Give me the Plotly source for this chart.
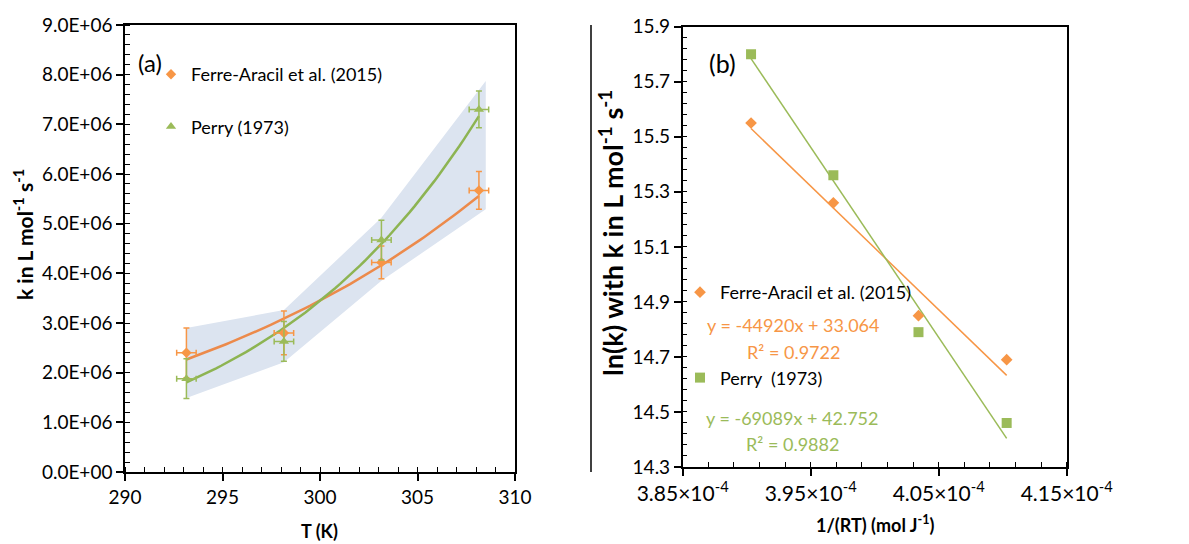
import numpy as np
import plotly.graph_objects as go

# ---------------- data ----------------
T_K = [293.15, 298.15, 303.15, 308.15]
k_ferre = [2.40e6, 2.80e6, 4.22e6, 5.67e6]
k_ferre_err = [0.50e6, 0.44e6, 0.33e6, 0.38e6]
k_perry = [1.88e6, 2.63e6, 4.67e6, 7.30e6]
k_perry_err = [0.40e6, 0.40e6, 0.40e6, 0.37e6]
T_err = [0.5, 0.5, 0.5, 0.5]

band_T = [293.15, 298.15, 303.15, 308.5]
band_upper = [2.90e6, 3.26e6, 5.12e6, 7.87e6]
band_lower = [1.49e6, 2.21e6, 3.85e6, 5.29e6]

invRT = [3.9034e-4, 3.9677e-4, 4.0342e-4, 4.1031e-4]
lnk_ferre = [15.55, 15.26, 14.85, 14.69]
lnk_perry = [15.80, 15.36, 14.79, 14.46]

fit_ferre = (-44920, 33.064, 0.9722)
fit_perry = (-69089, 42.752, 0.9882)
R_GAS = 8.314

yticks_a = [0, 1e6, 2e6, 3e6, 4e6, 5e6, 6e6, 7e6, 8e6, 9e6]
yticktext_a = ["0.0E+00", "1.0E+06", "2.0E+06", "3.0E+06", "4.0E+06",
               "5.0E+06", "6.0E+06", "7.0E+06", "8.0E+06", "9.0E+06"]
xticks_b = [3.85e-4, 3.95e-4, 4.05e-4, 4.15e-4]
xticktext_b = ["3.85×10<sup>-4</sup>", "3.95×10<sup>-4</sup>",
               "4.05×10<sup>-4</sup>", "4.15×10<sup>-4</sup>"]

# ---------------- styles ----------------
ORANGE = "#F79646"
ORANGE_LINE = "#EC8A4B"
GREEN = "#9BBB59"
GREEN_LINE = "#8DB452"
BAND = "#DCE4F0"
FONT = "Lato"

fig = go.Figure()

# band (a)
fig.add_trace(go.Scatter(
    x=band_T + band_T[::-1], y=band_upper + band_lower[::-1],
    fill="toself", fillcolor=BAND, line=dict(width=0), mode="lines",
    showlegend=False, hoverinfo="skip", xaxis="x", yaxis="y"))

# Arrhenius fit curves (a)
T_fine = np.linspace(T_K[0], T_K[-1], 60)
for (a, b, _), col in [(fit_ferre, ORANGE_LINE), (fit_perry, GREEN_LINE)]:
    fig.add_trace(go.Scatter(
        x=T_fine, y=np.exp(b + a / (R_GAS * T_fine)), mode="lines",
        line=dict(color=col, width=2.5), showlegend=False, hoverinfo="skip",
        xaxis="x", yaxis="y"))

# points (a)
fig.add_trace(go.Scatter(
    x=T_K, y=k_ferre, mode="markers", name="Ferre-Aracil et al. (2015)",
    marker=dict(symbol="diamond", size=8, color=ORANGE),
    error_y=dict(type="data", array=k_ferre_err, color=ORANGE, thickness=1.5, width=3),
    error_x=dict(type="data", array=T_err, color=ORANGE, thickness=1.5, width=3),
    legendgroup="a1", legend="legend", xaxis="x", yaxis="y"))
fig.add_trace(go.Scatter(
    x=T_K, y=k_perry, mode="markers", name="Perry (1973)",
    marker=dict(symbol="triangle-up", size=9, color=GREEN),
    error_y=dict(type="data", array=k_perry_err, color=GREEN, thickness=1.5, width=3),
    error_x=dict(type="data", array=T_err, color=GREEN, thickness=1.5, width=3),
    legendgroup="a2", legend="legend", xaxis="x", yaxis="y"))

# trendlines (b)
x_end = np.array([invRT[0], invRT[-1]])
for (a, b, _), col in [(fit_ferre, ORANGE), (fit_perry, GREEN)]:
    fig.add_trace(go.Scatter(
        x=x_end, y=a * x_end + b, mode="lines", line=dict(color=col, width=1.5),
        showlegend=False, hoverinfo="skip", xaxis="x2", yaxis="y2"))

fig.add_trace(go.Scatter(
    x=invRT, y=lnk_ferre, mode="markers", name="Ferre-Aracil et al. (2015)",
    marker=dict(symbol="diamond", size=9, color=ORANGE),
    legendgroup="b1", legend="legend2", xaxis="x2", yaxis="y2"))
fig.add_trace(go.Scatter(
    x=invRT, y=lnk_perry, mode="markers", name="Perry\u00a0\u00a0(1973)",
    marker=dict(symbol="square", size=10, color=GREEN),
    legendgroup="b2", legend="legend2", xaxis="x2", yaxis="y2"))

# page has an 8px body margin: figure is placed at (8, 8)
OFF = 8
W, H = 1189 - OFF, 544 - OFF
def px(x): return (x - OFF) / W
def py(y): return 1 - (y - OFF) / H

tickfont = dict(family=FONT, size=19, color="black")
common = dict(showline=True, linecolor="black", linewidth=1.5, mirror=True,
              ticks="outside", ticklen=7, tickwidth=1.5, tickcolor="black",
              showgrid=False, zeroline=False, automargin=False)

fig.update_layout(
    width=W, height=H, margin=dict(l=0, r=0, t=0, b=0, autoexpand=False),
    paper_bgcolor="white", plot_bgcolor="white",
    font=dict(family=FONT, size=18, color="black"),
    xaxis=dict(domain=[px(125), px(515)], range=[290, 310], dtick=5, tick0=290,
               anchor="y", tickfont=tickfont,
               minor=dict(ticks="inside", ticklen=5, dtick=1, tickwidth=1.2, tickcolor="black"),
               **common),
    yaxis=dict(domain=[py(472), py(25)], range=[0, 9e6], tickvals=yticks_a,
               ticktext=yticktext_a, anchor="x", tickfont=tickfont,
               minor=dict(ticks="inside", ticklen=5, dtick=2e5, tick0=0, tickwidth=1.2, tickcolor="black"),
               **common),
    xaxis2=dict(domain=[px(682.7), px(1066.7)], range=[3.85e-4, 4.15e-4],
                tickvals=xticks_b, ticktext=xticktext_b, anchor="y2",
                tickfont=dict(family=FONT, size=21, color="black"),
                minor=dict(ticks="inside", ticklen=5, tick0=3.85e-4, dtick=2e-6, tickwidth=1.2, tickcolor="black"),
                **common),
    yaxis2=dict(domain=[py(467), py(26.7)], range=[14.3, 15.9], dtick=0.2, tick0=14.3,
                tickformat=".1f", anchor="x2", tickfont=tickfont,
                minor=dict(ticks="inside", ticklen=5, tick0=14.3, dtick=0.04, tickwidth=1.2, tickcolor="black"),
                **common),
    legend=dict(x=px(151), y=py(56), xanchor="left", yanchor="top",
                bgcolor="rgba(0,0,0,0)", font=dict(family=FONT, size=18),
                traceorder="grouped", tracegroupgap=26),
    legend2=dict(x=px(680), y=py(274), xanchor="left", yanchor="top",
                 bgcolor="rgba(0,0,0,0)", font=dict(family=FONT, size=18),
                 traceorder="grouped", tracegroupgap=59),
)

ann = []
def add(text, x, y, color="black", size=18, angle=0):
    ann.append(dict(text=text, x=px(x), y=py(y), xref="paper", yref="paper",
                    showarrow=False, xanchor="center", yanchor="middle",
                    textangle=angle, font=dict(family=FONT, size=size, color=color)))

add("(a)", 150, 62, size=24)
add("(b)", 722, 63, size=25)
add("<b>k in L mol<sup>-1</sup> s<sup>-1</sup></b>", 23, 235, angle=-90, size=21)
add("<b>T (K)</b>", 319, 531, size=18)
add("<b>ln(k) with k in L mol<sup>-1</sup> s<sup>-1</sup></b>", 611, 233, angle=-90, size=27)
add("<b>1/(RT) (mol J<sup>-1</sup>)</b>", 875, 524, size=18)
add("y = %dx + %.3f" % (fit_ferre[0], fit_ferre[1]), 793, 325, color=ORANGE)
add("R² = %.4f" % fit_ferre[2], 793, 352, color=ORANGE)
add("y = %dx + %.3f" % (fit_perry[0], fit_perry[1]), 792, 418, color=GREEN)
add("R² = %.4f" % fit_perry[2], 792, 444, color=GREEN)
fig.update_layout(annotations=ann)

fig.add_shape(type="line", xref="paper", yref="paper",
              x0=px(591), x1=px(591), y0=py(25), y1=py(472),
              line=dict(color="black", width=1.5))

fig.write_html("out.html")
